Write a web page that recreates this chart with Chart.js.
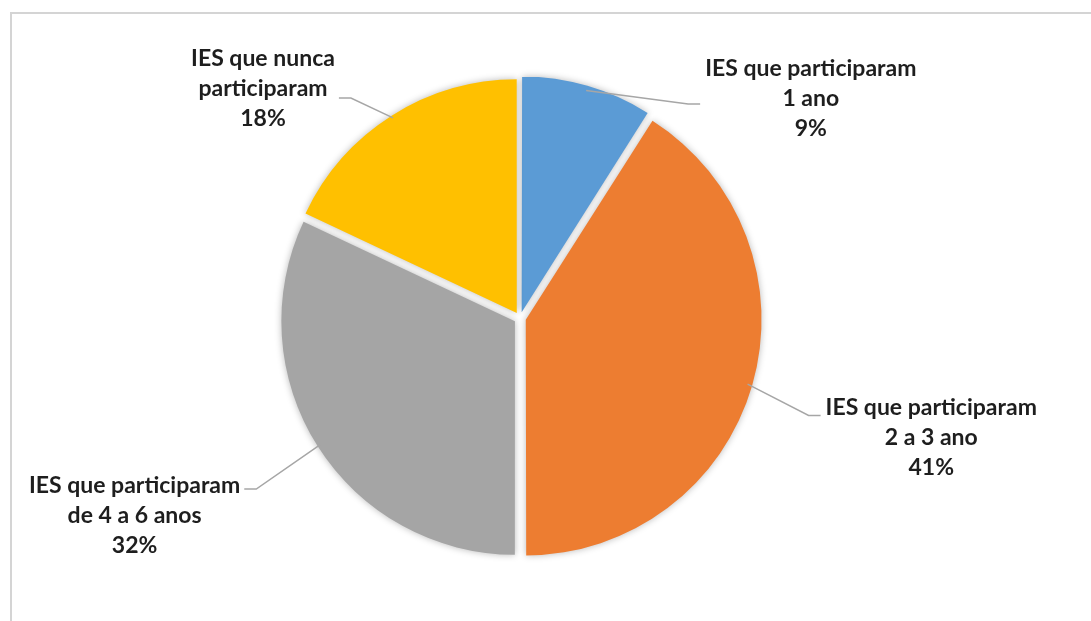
<!DOCTYPE html>
<html>
<head>
<meta charset="utf-8">
<script src="https://cdn.jsdelivr.net/npm/chart.js@4"></script>
<style>
  html, body { margin: 0; padding: 0; background: #fff; overflow: hidden; }
  #frame {
    position: absolute; left: 10px; top: 12px;
    width: 1200px; height: 700px;
    border: 2px solid #d4d4d4;
  }
  #wrap { position: absolute; left: 0; top: 0; width: 1091px; height: 621px; }
</style>
</head>
<body>
<div id="frame"></div>
<div id="wrap"><canvas id="chart"></canvas></div>
<script>
// ---------- data ----------
const categories = [
  ["IES que participaram", "1 ano"],
  ["IES que participaram", "2 a 3 ano"],
  ["IES que participaram", "de 4 a 6 anos"],
  ["IES que nunca", "participaram"],
];
const values = [9, 41, 32, 18];
const colors = ["#5B9BD5", "#ED7D31", "#A5A5A5", "#FFC000"];

// label placement, in pie radii from the centre (block centre), plus leader end offset in px
const labelPlacement = [
  { x: 1.248, y: -0.94, leadDy: 5 },
  { x: 1.765, y: 0.513, leadDy: -22 },
  { x: -1.654, y: 0.846, leadDy: -26 },
  { x: -1.103, y: -0.983, leadDy: 9 },
];

const EXPLODE = 6; // px the slices move out (chart.js divides offset by 4)
const FONT = "bold 23px Lato, 'Open Sans', sans-serif";
const LINE_H = 30;

// ---------- plugins ----------
const shadowPlugin = {
  id: "sliceShadow",
  beforeDatasetDraw(chart) {
    const ctx = chart.ctx;
    ctx.save();
    ctx.shadowColor = "rgba(0,0,0,0.28)";
    ctx.shadowBlur = 7;
  },
  afterDatasetDraw(chart) {
    chart.ctx.restore();
  },
};

const outerLabels = {
  id: "outerLabels",
  afterDraw(chart) {
    const ctx = chart.ctx;
    const meta = chart.getDatasetMeta(0);
    const total = values.reduce((a, b) => a + b, 0);
    ctx.save();
    ctx.font = FONT;
    ctx.textAlign = "center";
    ctx.textBaseline = "middle";
    meta.data.forEach((arc, i) => {
      const p = arc.getProps(["x", "y", "startAngle", "endAngle", "outerRadius"], true);
      const mid = (p.startAngle + p.endAngle) / 2;
      const r = p.outerRadius;
      const ax = p.x + Math.cos(mid) * (r + EXPLODE - 2);
      const ay = p.y + Math.sin(mid) * (r + EXPLODE - 2);

      const place = labelPlacement[i];
      const cx = p.x + place.x * r;
      const cy = p.y + place.y * r;
      const lines = categories[i].concat([Math.round((values[i] / total) * 100) + "%"]);
      const w = Math.max(...lines.map((l) => ctx.measureText(l).width));

      // leader line
      const right = place.x > 0;
      const ex = right ? cx - w / 2 - 5 : cx + w / 2 + 4;
      const ey = cy + place.leadDy;
      const elbowX = right ? ex - 12 : ex + 12;
      ctx.strokeStyle = "#a6a6a6";
      ctx.lineWidth = 1.5;
      ctx.beginPath();
      ctx.moveTo(ax, ay);
      ctx.lineTo(elbowX, ey);
      ctx.lineTo(ex, ey);
      ctx.stroke();

      ctx.fillStyle = "#1e1e1e";
      const top = cy - ((lines.length - 1) * LINE_H) / 2;
      lines.forEach((l, k) => ctx.fillText(l, cx, top + k * LINE_H));
    });
    ctx.restore();
  },
};

// ---------- chart ----------
new Chart(document.getElementById("chart"), {
  type: "pie",
  data: {
    labels: categories.map((c) => c.join(" ")),
    datasets: [
      {
        data: values,
        backgroundColor: colors,
        borderWidth: 0,
        offset: EXPLODE * 4,
        hoverOffset: 0,
      },
    ],
  },
  options: {
    responsive: true,
    maintainAspectRatio: false,
    animation: false,
    layout: { padding: { top: 73, bottom: 58, left: 275, right: 326 } },
    plugins: {
      legend: { display: false },
      tooltip: { enabled: false },
    },
  },
  plugins: [shadowPlugin, outerLabels],
});
</script>
</body>
</html>
